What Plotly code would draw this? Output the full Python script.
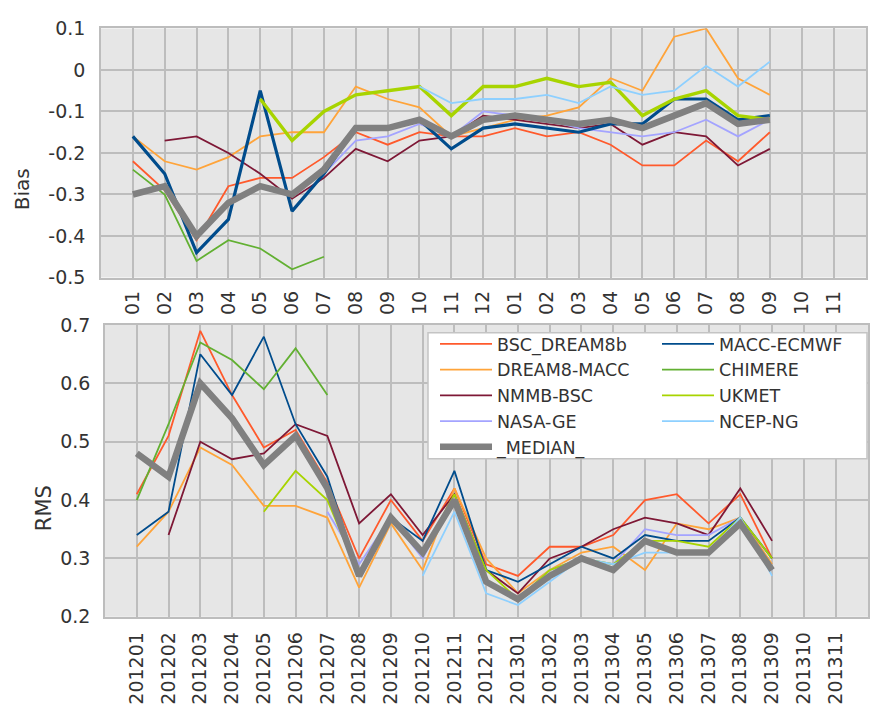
import plotly.graph_objects as go

W, H = 870, 714

# Month categories
month_ticks = ["01", "02", "03", "04", "05", "06", "07", "08", "09", "10", "11", "12"] * 2
months = [f"2012{m:02d}" for m in range(1, 13)] + [f"2013{m:02d}" for m in range(1, 13)]

def pad(vals, lead=0, n=24):
    out = [None] * lead + list(vals)
    return out + [None] * (n - len(out))

# Bias per model
bias_bsc = pad([-0.22, -0.29, -0.41, -0.28, -0.26, -0.26, -0.21, -0.15, -0.18, -0.15, -0.16, -0.16,
                -0.14, -0.16, -0.15, -0.18, -0.23, -0.23, -0.17, -0.22, -0.15])
bias_dream = pad([-0.16, -0.22, -0.24, -0.21, -0.16, -0.15, -0.15, -0.04, -0.07, -0.09, -0.16, -0.14,
                  -0.12, -0.11, -0.09, -0.02, -0.05, 0.08, 0.10, -0.02, -0.06])
bias_nmmb = pad([-0.17, -0.16, -0.20, -0.25, -0.31, -0.26, -0.19, -0.22, -0.17, -0.16, -0.11,
                 -0.12, -0.13, -0.14, -0.13, -0.18, -0.15, -0.16, -0.23, -0.19], lead=1)
bias_nasa = pad([-0.25, -0.17, -0.16, -0.13, -0.16, -0.10,
                 -0.11, -0.12, -0.14, -0.15, -0.16, -0.15, -0.12, -0.16, -0.12], lead=6)
bias_macc = pad([-0.16, -0.25, -0.44, -0.36, -0.05, -0.34, -0.25, -0.14, -0.14, -0.12, -0.19, -0.14,
                 -0.13, -0.14, -0.15, -0.13, -0.13, -0.07, -0.07, -0.12, -0.11])
bias_chimere = pad([-0.24, -0.30, -0.46, -0.41, -0.43, -0.48, -0.45])
bias_ukmet = pad([-0.07, -0.17, -0.10, -0.06, -0.05, -0.04, -0.11, -0.04,
                  -0.04, -0.02, -0.04, -0.03, -0.11, -0.07, -0.05, -0.11, -0.12], lead=4)
bias_ncep = pad([-0.04, -0.08, -0.07,
                 -0.07, -0.06, -0.08, -0.04, -0.06, -0.05, 0.01, -0.04, 0.02], lead=9)
bias_median = pad([-0.30, -0.28, -0.40, -0.32, -0.28, -0.30, -0.24, -0.14, -0.14, -0.12, -0.16, -0.12,
                   -0.11, -0.12, -0.13, -0.12, -0.14, -0.11, -0.08, -0.13, -0.12])

# RMS per model
rms_bsc = pad([0.41, 0.51, 0.69, 0.58, 0.49, 0.52, 0.43, 0.30, 0.40, 0.33, 0.42, 0.29,
               0.27, 0.32, 0.32, 0.34, 0.40, 0.41, 0.36, 0.41, 0.30])
rms_dream = pad([0.32, 0.38, 0.49, 0.46, 0.39, 0.39, 0.37, 0.25, 0.36, 0.28, 0.42, 0.30,
                 0.24, 0.28, 0.31, 0.32, 0.28, 0.36, 0.35, 0.37, 0.29])
rms_nmmb = pad([0.34, 0.50, 0.47, 0.48, 0.53, 0.51, 0.36, 0.41, 0.34, 0.41, 0.28,
                0.24, 0.30, 0.32, 0.35, 0.37, 0.36, 0.34, 0.42, 0.33], lead=1)
rms_nasa = pad([0.38, 0.29, 0.37, 0.30, 0.40, 0.26,
                0.23, 0.28, 0.30, 0.29, 0.35, 0.34, 0.34, 0.37, 0.28], lead=6)
rms_macc = pad([0.34, 0.38, 0.65, 0.58, 0.68, 0.53, 0.44, 0.27, 0.37, 0.33, 0.45, 0.28,
                0.26, 0.29, 0.32, 0.30, 0.34, 0.33, 0.33, 0.37, 0.30])
rms_chimere = pad([0.40, 0.53, 0.67, 0.64, 0.59, 0.66, 0.58])
rms_ukmet = pad([0.38, 0.45, 0.40, 0.27, 0.37, 0.31, 0.41, 0.28,
                 0.23, 0.28, 0.30, 0.29, 0.33, 0.33, 0.32, 0.37, 0.30], lead=4)
rms_ncep = pad([0.27, 0.38, 0.24,
                0.22, 0.26, 0.30, 0.29, 0.31, 0.31, 0.31, 0.37, 0.27], lead=9)
rms_median = pad([0.48, 0.44, 0.60, 0.54, 0.46, 0.51, 0.42, 0.27, 0.37, 0.31, 0.40, 0.26,
                  0.23, 0.27, 0.30, 0.28, 0.33, 0.31, 0.31, 0.36, 0.28])

# name, colour, bias, rms, bias line width, legend column
models = [
    ("BSC_DREAM8b", "#ff5a2c", bias_bsc, rms_bsc, 1.8, "legend"),
    ("DREAM8-MACC", "#ffa43a", bias_dream, rms_dream, 1.8, "legend"),
    ("NMMB-BSC", "#7e1836", bias_nmmb, rms_nmmb, 1.8, "legend"),
    ("NASA-GE", "#a4a4ff", bias_nasa, rms_nasa, 1.8, "legend"),
    ("MACC-ECMWF", "#004c8c", bias_macc, rms_macc, 3.2, "legend2"),
    ("CHIMERE", "#62b032", bias_chimere, rms_chimere, 1.8, "legend2"),
    ("UKMET", "#a8d400", bias_ukmet, rms_ukmet, 3.4, "legend2"),
    ("NCEP-NG", "#8ed0ff", bias_ncep, rms_ncep, 1.8, "legend2"),
    ("_MEDIAN_", "#808080", bias_median, rms_median, 6.5, "legend"),
]

idx = list(range(24))
fig = go.Figure()
for name, color, b, r, bw, leg in models:
    rms_w = 6.5 if name == "_MEDIAN_" else 1.8
    fig.add_trace(go.Scatter(x=idx, y=b, mode="lines", name=name, showlegend=False,
                             line=dict(color=color, width=bw), xaxis="x", yaxis="y",
                             connectgaps=False))
    fig.add_trace(go.Scatter(x=idx, y=r, mode="lines", name=name, showlegend=True,
                             legend=leg, line=dict(color=color, width=rms_w),
                             xaxis="x2", yaxis="y2", connectgaps=False))

FONT = "DejaVu Sans"
TXT = "#333333"
GRID = "#bdbdbd"
BG = "#e6e6e6"

axis_common = dict(showgrid=True, gridcolor=GRID, gridwidth=1.6, zeroline=False,
                   showline=True, linecolor=GRID, linewidth=1.6, mirror=True,
                   ticks="", tickfont=dict(family=FONT, size=19, color=TXT))

fig.update_layout(
    width=W, height=H, margin=dict(l=0, r=0, t=0, b=0),
    paper_bgcolor="white", plot_bgcolor=BG,
    font=dict(family=FONT, size=18, color=TXT),
    xaxis=dict(domain=[101 / W, 866 / W], anchor="y", range=[-1, 23.02],
               tickmode="array", tickvals=idx, ticktext=month_ticks, tickangle=-90,
               ticklabelstandoff=4, **axis_common),
    yaxis=dict(domain=[1 - 275 / H, 1 - 18 / H], anchor="x", range=[-0.5, 0.1],
               tickmode="array", tickvals=[-0.5, -0.4, -0.3, -0.2, -0.1, 0, 0.1],
               ticktext=["-0.5", "-0.4", "-0.3", "-0.2", "-0.1", "0", "0.1"],
               ticklabelstandoff=10, **axis_common),
    xaxis2=dict(domain=[105 / W, 868 / W], anchor="y2", range=[-1, 23.02],
                tickmode="array", tickvals=idx, ticktext=months, tickangle=-90,
                ticklabelstandoff=6, **axis_common),
    yaxis2=dict(domain=[1 - 625 / H, 1 - 324 / H], anchor="x2", range=[0.2, 0.7],
                tickmode="array", tickvals=[0.2, 0.3, 0.4, 0.5, 0.6, 0.7],
                ticktext=["0.2", "0.3", "0.4", "0.5", "0.6", "0.7"],
                ticklabelstandoff=9, **axis_common),
    legend=dict(x=435 / W, y=1 - 325 / H, xanchor="left", yanchor="top",
                bgcolor="rgba(0,0,0,0)", borderwidth=0, itemwidth=52,
                font=dict(family=FONT, size=17.5, color=TXT), tracegroupgap=0),
    legend2=dict(x=657 / W, y=1 - 325 / H, xanchor="left", yanchor="top",
                 bgcolor="rgba(0,0,0,0)", borderwidth=0, itemwidth=52,
                 font=dict(family=FONT, size=17.5, color=TXT), tracegroupgap=0),
    shapes=[dict(type="rect", xref="paper", yref="paper",
                 x0=428 / W, x1=867 / W, y0=1 - 462 / H, y1=1 - 332 / H,
                 fillcolor="white", line=dict(color="#c4c4c4", width=1.5), layer="above")],
    annotations=[
        dict(text="Bias", xref="paper", yref="paper", x=22 / W, y=1 - 184 / H,
             textangle=-90, showarrow=False, xanchor="center", yanchor="middle",
             font=dict(family=FONT, size=20, color=TXT)),
        dict(text="RMS", xref="paper", yref="paper", x=44 / W, y=1 - 513 / H,
             textangle=-90, showarrow=False, xanchor="center", yanchor="middle",
             font=dict(family=FONT, size=21, color=TXT)),
    ],
)

fig.write_html("out.html")
